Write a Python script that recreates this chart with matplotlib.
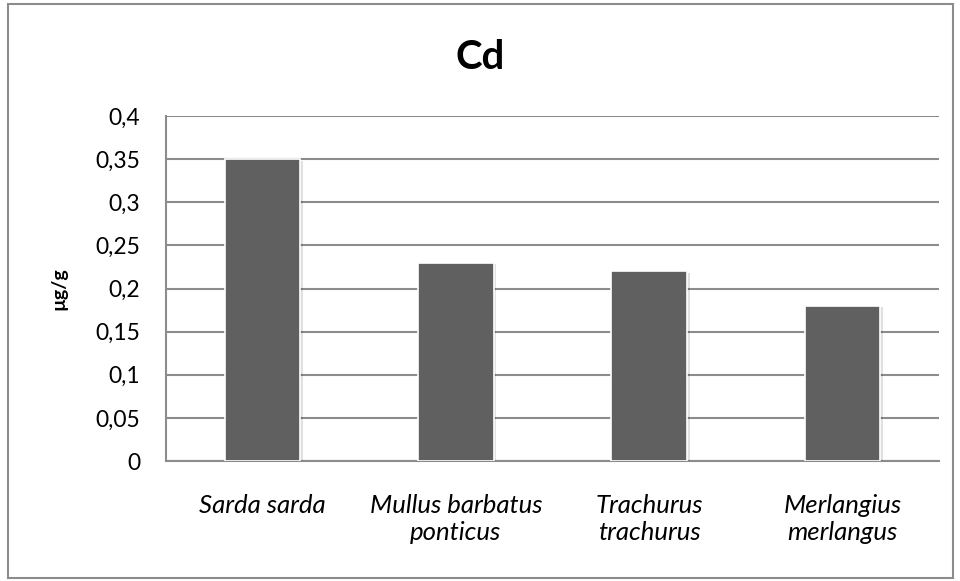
import matplotlib.pyplot as plt
import matplotlib.patheffects as pe
from matplotlib.patches import Rectangle
from matplotlib.ticker import FuncFormatter

species = ["Sarda sarda", "Mullus barbatus\nponticus", "Trachurus\ntrachurus", "Merlangius\nmerlangus"]
cd = [0.35, 0.23, 0.22, 0.18]
yticks = [0, 0.05, 0.1, 0.15, 0.2, 0.25, 0.3, 0.35, 0.4]

plt.rcParams['font.family'] = ['Lato', 'DejaVu Sans']

fig = plt.figure(figsize=(9.6, 5.81), dpi=100)
ax = fig.add_axes([166 / 960, 1 - 461 / 581, 773 / 960, 345 / 581])

grid_col = "#8c8c8c"
bars = ax.bar(range(len(species)), cd, width=0.39, color="#606060",
              edgecolor="white", linewidth=1.2, zorder=3)
for b in bars:
    b.set_path_effects([pe.SimplePatchShadow(offset=(2, -1), shadow_rgbFace="#000000", alpha=0.12),
                        pe.Normal()])

ax.set_xlim(-0.5, len(species) - 0.5)
ax.set_ylim(0, 0.4)
ax.set_yticks(yticks)
ax.yaxis.set_major_formatter(FuncFormatter(lambda v, p: ("%g" % v).replace(".", ",")))
ax.grid(axis="y", color=grid_col, linewidth=1.5, zorder=0)
ax.set_axisbelow(True)

for s in ["top", "right"]:
    ax.spines[s].set_visible(False)
for s in ["left", "bottom"]:
    ax.spines[s].set_color(grid_col)
    ax.spines[s].set_linewidth(1.5)

ax.set_xticks(range(len(species)))
ax.set_xticklabels(species, style="italic", fontsize=18.5, linespacing=1.2)
ax.tick_params(axis="x", length=0, pad=24)
ax.tick_params(axis="y", length=0, pad=18.5, labelsize=16.5)
for lbl in ax.get_xticklabels():
    lbl.set_verticalalignment("top")

ax.set_ylabel("µg/g", fontsize=14, fontweight="bold", labelpad=20)
fig.text(0.5, 1 - 69 / 581, "Cd", ha="center", va="baseline", fontsize=29, fontweight="bold")

# outer chart border
fig.patches.append(Rectangle((8 / 960, 3 / 581), 945 / 960, 574 / 581, transform=fig.transFigure,
                             fill=False, edgecolor=grid_col, linewidth=1.5))

fig.savefig("out.png", dpi=100)
